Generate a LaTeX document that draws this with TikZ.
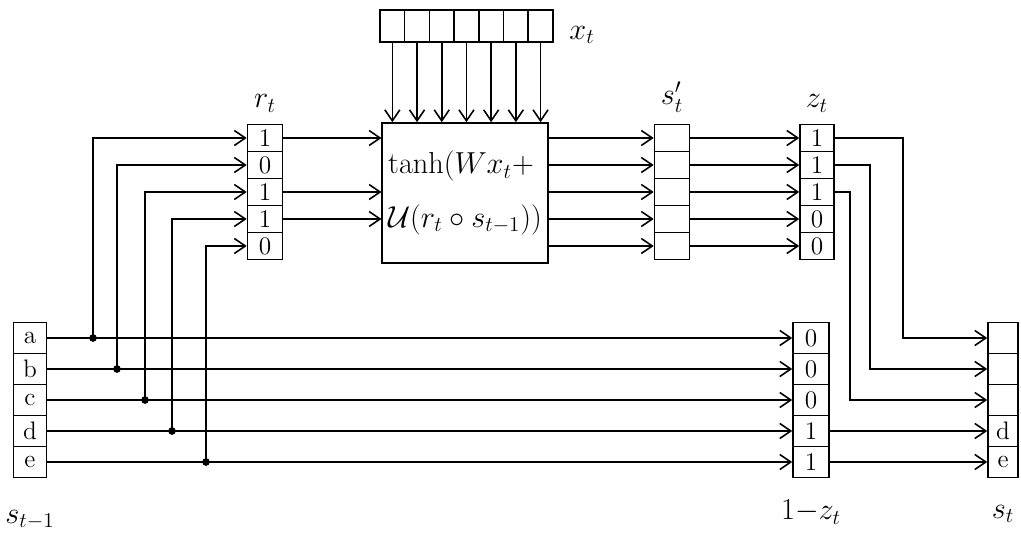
\documentclass[tikz,border=0pt]{standalone}
\usepackage{amsmath}
\usepackage{tikz}
\usetikzlibrary{arrows.meta, positioning, calc}

\begin{document}
\begin{tikzpicture}[
		x=0.02cm, y=-0.02cm,
		line width=0.9pt,
		>={Straight Barb[length=2.2mm, width=3mm]},
		cell/.style={draw, inner sep=0pt, font=\Large},
		topcell/.style={cell, minimum height=0.54cm},
		lowcell/.style={cell, minimum height=0.62cm},
		lbl/.style={font=\LARGE}
	]
	\useasboundingbox (0,0) rectangle (1021,540);

	% input vector x_t
	\foreach \i in {1,...,7}
		\node[cell, minimum width=0.494cm, minimum height=0.64cm] (x\i) at ({380+24.7*(\i-0.5)}, 26) {};
	\node[lbl] (xlbl) at (582, 35) {$x_t$};

	% the candidate box
	\node[draw, minimum width=3.24cm, minimum height=2.8cm, align=left, font=\LARGE] (gru) at (465, 193) {$\tanh(Wx_t +$\\[3mm]$\mathcal{U}(r_t \circ s_{t-1}))$};

	% reset gate r_t
	\foreach \v [count=\i] in {1,0,1,1,0}
		\node[topcell, minimum width=0.7cm] (r\i) at (265, {111+27*\i}) {\v};
	\node[lbl, above=1mm of r1] (rlbl) {$r_t$};

	% candidate state s'_t
	\foreach \i in {1,...,5}
		\node[topcell, minimum width=0.7cm] (sc\i) at (672, {111+27*\i}) {};
	\node[lbl, above=1mm of sc1] (sclbl) {$s'_t$};

	% update gate z_t
	\foreach \v [count=\i] in {1,1,1,0,0}
		\node[topcell, minimum width=0.68cm] (z\i) at (817, {111+27*\i}) {\v};
	\node[lbl, above=1mm of z1] (zlbl) {$z_t$};

	% previous state s_{t-1}
	\foreach \v [count=\i] in {a,b,c,d,e}
		\node[lowcell, minimum width=0.66cm] (sp\i) at (30, {307+31*\i}) {\v};
	\node[lbl, below=5mm of sp5] (splbl) {$s_{t-1}$};

	% 1 - z_t
	\foreach \v [count=\i] in {0,0,0,1,1}
		\node[lowcell, minimum width=0.72cm] (oz\i) at (811, {307+31*\i}) {\v};
	\node[lbl, below=3mm of oz5] (ozlbl) {$1{-}z_t$};

	% new state s_t
	\foreach \v [count=\i] in {{},{},{},d,e}
		\node[lowcell, minimum width=0.6cm] (s\i) at (1003, {307+31*\i}) {\v};
	\node[lbl, below=4mm of s5] (slbl) {$s_t$};

	% s_{t-1} to 1-z_t, branching up to r_t
	\foreach \i/\jx in {1/93, 2/117, 3/145, 4/172, 5/206} {
		\draw[->] (sp\i.east) -- (oz\i.west);
		\coordinate (j\i) at (\jx, {307+31*\i});
		\fill (j\i) circle (2.2pt);
		\draw[->] (j\i) |- (r\i.west);
	}

	% r_t into the box
	\foreach \i in {1,3,4}
		\draw[->] (r\i.east) -- (r\i.east -| gru.west);

	% x_t into the box
	\foreach \i in {1,...,7}
		\draw[->] (x\i.south) -- (x\i.south |- gru.north);

	% box to s'_t to z_t
	\foreach \i in {1,...,5} {
		\draw[->] (sc\i.west -| gru.east) -- (sc\i.west);
		\draw[->] (sc\i.east) -- (z\i.west);
	}

	% z_t down to s_t
	\foreach \i/\kx in {1/903, 2/870, 3/850} {
		\coordinate (k\i) at (\kx, 0);
		\draw[->] (z\i.east) -| (k\i |- s\i.west) -- (s\i.west);
	}

	% 1-z_t to s_t
	\foreach \i in {4,5}
		\draw[->] (oz\i.east) -- (s\i.west);

\end{tikzpicture}
\end{document}
